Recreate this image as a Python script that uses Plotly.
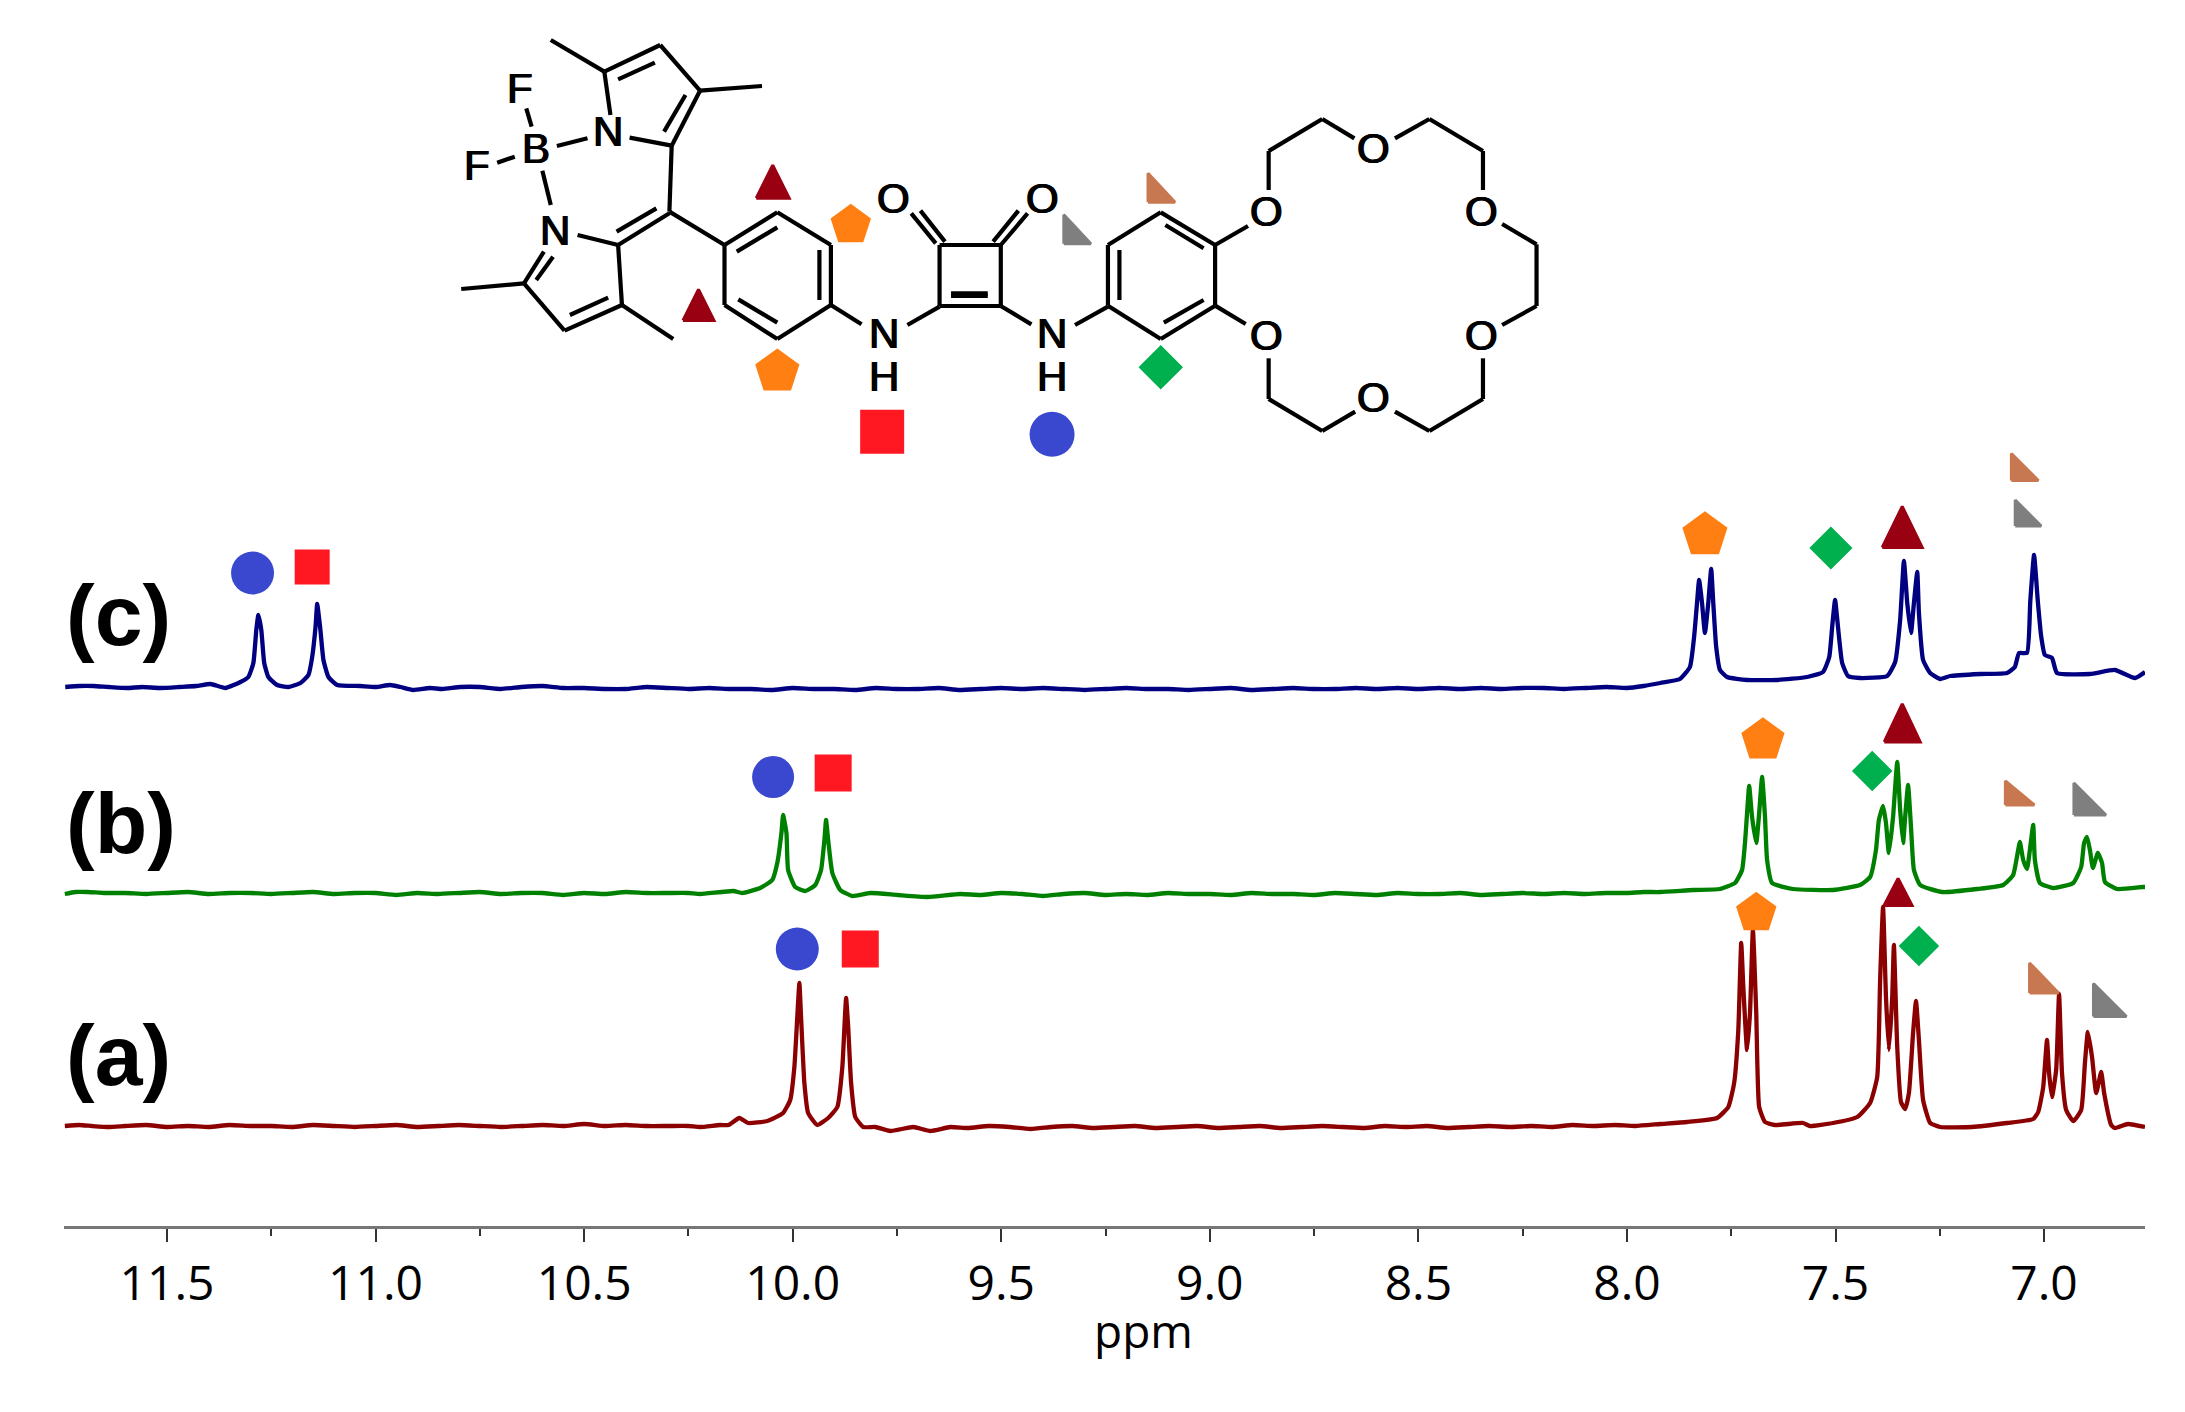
import plotly.graph_objects as go

# ---- spectra: (ppm, stacked intensity) ----
spectrum_c = [
(11.744,539),(11.71,540),(11.677,540),(11.64,539),(11.595,538),(11.56,539),(11.516,538),(11.47,539),(11.43,540),(11.396,542),
(11.360,538),(11.324,544),(11.305,549),(11.293,563),(11.286,596),(11.281,611),(11.274,596),(11.267,563),(11.257,549),
(11.236,541),(11.209,539),(11.180,543),(11.161,551),(11.152,569),(11.144,599),(11.140,622),(11.133,599),(11.125,566),
(11.113,549),(11.092,541),(11.037,540),(11.00,539),(10.965,541),(10.94,539),(10.910,536),(10.87,538),(10.84,537),(10.797,539),
(10.75,539),(10.70,537),(10.65,539),(10.60,540),(10.55,538),(10.50,538),(10.45,537),(10.40,537),(10.35,539),(10.30,538),
(10.25,537),(10.20,538),(10.15,537),(10.10,537),(10.05,536),(10.00,538),(9.95,537),(9.90,537),(9.85,536),(9.80,538),
(9.75,537),(9.70,537),(9.65,538),(9.60,536),(9.55,537),(9.50,538),(9.45,537),(9.40,538),(9.35,537),(9.30,536),
(9.25,537),(9.20,538),(9.15,537),(9.10,537),(9.05,536),(9.00,537),(8.95,538),(8.90,536),(8.85,537),(8.80,538),
(8.75,537),(8.70,537),(8.65,538),(8.60,537),(8.55,538),(8.50,537),(8.45,538),(8.40,537),(8.35,538),(8.30,537),
(8.25,538),(8.20,538),(8.15,537),(8.10,538),(8.05,539),(8.00,538),(7.96,540),
(7.920,543),(7.873,547),(7.849,559),(7.839,589),(7.832,623),(7.827,646),(7.820,623),(7.813,593),(7.805,623),(7.798,657),
(7.793,623),(7.786,579),(7.777,556),(7.760,549),(7.712,546),(7.640,546),(7.568,549),(7.530,554),(7.515,569),(7.508,599),
(7.501,626),(7.494,599),(7.484,563),(7.470,550),(7.441,548),(7.376,550),(7.357,564),(7.345,606),(7.336,665),(7.328,623),
(7.319,593),(7.312,623),(7.304,654),(7.300,613),(7.290,566),(7.273,553),(7.249,547),(7.225,550),(7.153,552),(7.089,553),
(7.070,559),(7.060,573),(7.041,573),(7.033,625),(7.024,671),(7.015,625),(7.007,590),(6.998,571),(6.981,568),(6.969,553),
(6.890,552),(6.830,556),(6.782,548),(6.758,554),
]
spectrum_b = [
(11.745,332),(11.72,334),(11.69,334),(11.65,333),(11.60,333),(11.55,332),(11.50,333),(11.45,334),(11.40,332),(11.35,333),
(11.30,333),(11.25,332),(11.20,333),(11.15,334),(11.10,332),(11.05,333),(11.00,333),(10.95,331),(10.90,333),(10.85,332),
(10.80,333),(10.75,334),(10.70,332),(10.65,333),(10.60,333),(10.55,331),(10.50,333),(10.45,332),(10.40,334),(10.35,333),
(10.30,333),(10.25,333),
(10.222,332),(10.142,335),(10.121,333),(10.078,338),(10.049,346),(10.037,363),(10.027,393),(10.023,411),(10.015,393),
(10.011,356),(9.994,339),(9.970,335),(9.946,341),(9.932,356),(9.924,386),(9.920,406),(9.915,386),(9.905,353),(9.886,336),
(9.857,330),(9.814,333),(9.749,331),(9.677,329),(9.598,332),
(9.55,331),(9.50,333),(9.45,332),(9.40,330),(9.35,332),(9.30,333),(9.25,331),(9.20,332),(9.15,331),(9.10,333),(9.05,332),
(9.00,332),(8.95,331),(8.90,333),(8.85,332),(8.80,332),(8.75,331),(8.70,333),(8.65,332),(8.60,331),(8.55,333),(8.50,332),
(8.45,332),(8.40,333),(8.35,331),(8.30,332),(8.25,333),(8.20,332),(8.15,333),(8.10,332),(8.05,333),(8.00,333),(7.96,334),
(7.920,334),(7.841,336),(7.777,337),(7.741,343),(7.724,356),(7.717,383),(7.712,413),(7.707,440),(7.700,409),(7.690,383),
(7.683,413),(7.676,449),(7.669,409),(7.664,366),(7.652,343),(7.602,337),(7.506,336),(7.441,341),(7.417,349),(7.403,376),
(7.396,406),(7.386,420),(7.379,403),(7.372,373),(7.362,409),(7.352,464),(7.345,416),(7.338,383),(7.333,409),(7.326,441),
(7.319,399),(7.312,356),(7.297,341),(7.244,334),(7.161,337),(7.098,341),(7.074,351),(7.065,369),(7.058,384),(7.050,366),
(7.041,357),(7.034,376),(7.026,401),(7.022,366),(7.010,343),(6.978,338),(6.930,343),(6.911,359),(6.904,383),(6.897,389),
(6.890,376),(6.883,358),(6.871,373),(6.861,363),(6.854,344),(6.825,337),(6.763,339),(6.758,339),
]
spectrum_a = [
(11.745,100),(11.71,101),(11.68,100),(11.64,99),(11.60,100),(11.55,101),(11.50,99),(11.45,100),(11.40,99),(11.35,101),
(11.30,100),(11.25,100),(11.20,99),(11.15,101),(11.10,100),(11.05,99),(11.00,100),(10.95,101),(10.90,99),(10.85,100),
(10.80,101),(10.75,100),(10.70,99),(10.65,100),(10.60,101),(10.55,100),(10.50,102),(10.45,100),(10.40,101),(10.35,100),
(10.30,100),(10.25,100),
(10.222,99),(10.174,101),(10.154,101),(10.128,108),(10.107,103),(10.061,105),(10.023,113),(10.006,126),(9.996,159),
(9.989,209),(9.984,243),(9.980,209),(9.972,143),(9.963,113),(9.941,101),(9.915,108),(9.893,119),(9.881,159),(9.876,199),
(9.872,228),(9.867,199),(9.860,143),(9.850,109),(9.831,99),(9.802,99),(9.766,95),(9.711,99),(9.670,95),(9.622,99),
(9.58,98),(9.53,100),(9.48,99),(9.43,97),(9.38,99),(9.33,100),(9.28,98),(9.23,99),(9.18,100),(9.13,98),(9.08,99),
(9.03,100),(8.98,98),(8.93,99),(8.88,100),(8.83,98),(8.78,99),(8.73,100),(8.68,99),(8.63,98),(8.58,100),(8.53,99),
(8.48,100),(8.43,98),(8.38,99),(8.33,100),(8.28,99),(8.23,100),(8.18,99),(8.13,101),(8.08,100),(8.03,101),(7.98,100),
(7.920,102),(7.856,104),(7.784,108),(7.757,119),(7.743,143),(7.733,196),(7.726,283),(7.721,239),(7.712,176),(7.705,213),
(7.698,296),(7.690,213),(7.683,119),(7.669,104),(7.645,101),(7.578,103),(7.561,100),(7.506,103),(7.448,109),(7.417,123),
(7.400,149),(7.393,246),(7.386,319),(7.379,229),(7.372,176),(7.364,229),(7.360,281),(7.352,179),(7.343,124),(7.333,117),
(7.324,133),(7.314,193),(7.307,225),(7.300,186),(7.290,126),(7.273,103),(7.249,99),(7.173,99),(7.089,103),(7.026,107),
(7.014,114),(7.002,139),(6.993,186),(6.988,153),(6.981,129),(6.971,156),(6.964,232),(6.957,153),(6.947,116),(6.930,105),
(6.911,116),(6.902,163),(6.895,194),(6.885,169),(6.875,133),(6.863,154),(6.856,133),(6.839,101),(6.830,98),(6.799,102),(6.758,99),
]
c_ppm, c_int = zip(*spectrum_c)
b_ppm, b_int = zip(*spectrum_b)
a_ppm, a_int = zip(*spectrum_a)

tick_vals = [11.5, 11.0, 10.5, 10.0, 9.5, 9.0, 8.5, 8.0, 7.5, 7.0]
tick_text = ["11.5", "11.0", "10.5", "10.0", "9.5", "9.0", "8.5", "8.0", "7.5", "7.0"]

# ---- peak assignment symbols, in (c, b, a) order ----
circle_ppm, circle_val, circle_size = [11.295, 10.047, 9.989], [653, 449, 277], [43, 42, 43]
square_ppm, square_val, square_size = [11.152, 9.903, 9.838], [659, 453, 277], [35, 37, 37]
pentagon_ppm, pentagon_val, pentagon_size = [7.813, 7.674, 7.690], [691, 486, 313], [45, 43, 40]
diamond_ppm, diamond_val, diamond_size = [7.511, 7.412, 7.300], [678, 455, 280], [31, 29, 29]
triangle_ppm, triangle_val, triangle_w, triangle_h = [7.340, 7.340, 7.350], [699, 503, 334], [43, 39, 31], [44, 41, 30]
brown_ppm, brown_val, brown_w, brown_h = [7.046, 7.058, 7.000], [759, 433, 248], [30, 32, 32], [30, 27, 33]
grey_ppm, grey_val, grey_w, grey_h = [7.038, 6.890, 6.842], [713, 427, 226], [29, 35, 36], [29, 35, 36]

COLORS = dict(c="#000080", b="#008000", a="#8B0000", circle="#3A48CF", square="#FF1722",
              pentagon="#FF7F12", diamond="#00B04F", triangle="#990012", brown="#C87850", grey="#7F7F7F")
PX_PER_PPM = 417.2

# ---- molecule sketch, in its own drawing units on an overlay axis pair ----
bonds = [
((197,120),(267,215)),((267,215),(340,135)),((285,238),(333,188)),((340,135),(392,272)),((392,272),(473,258)),
((392,272),(355,437)),((373,285),(345,395)),((300,413),(355,437)),((267,215),(275,345)),
((165,325),(172,380)),((127,488),(150,470)),((205,438),(245,415)),((186,512),(197,615)),
((355,437),(352,635)),((352,640),(285,735)),((335,625),(283,695)),((232,705),(285,735)),
((188,755),(162,850)),((200,770),(178,840)),((80,867),(162,850)),((162,850),(215,992)),
((215,992),(290,915)),((222,945),(272,893)),((290,915),(285,735)),((290,915),(357,1017)),
((352,635),(424,735)),
((424,735),(493,637)),((493,637),(563,735)),((563,735),(563,915)),((563,915),(493,1017)),((493,1017),(424,915)),((424,915),(424,735)),
((440,755),(493,682)),((548,750),(548,900)),((442,898),(493,968)),
((563,915),(603,973)),((663,975),(705,920)),
((705,735),(785,735)),((785,735),(785,918)),((785,918),(705,918)),((705,918),(705,735)),((720,880),(768,880)),((720,888),(768,888)),
((668,640),(700,730)),((680,632),(712,725)),((820,640),(785,735)),((808,632),(775,725)),
((785,918),(825,973)),((882,975),(925,920)),
((925,735),(994,637)),((994,637),(1065,735)),((1065,735),(1065,917)),((1065,917),(994,1017)),((994,1017),(925,917)),((925,917),(925,735)),
((940,750),(940,900)),((1000,675),(1050,745)),((1050,900),(998,968)),
((1065,735),(1108,678)),((1065,917),(1105,972)),
((1135,570),(1135,453)),((1135,453),(1205,357)),((1205,357),(1247,415)),((1300,415),(1345,357)),((1345,357),(1415,453)),((1415,453),(1415,570)),
((1440,672),(1485,733)),((1485,733),(1485,918)),((1485,918),(1440,975)),
((1415,1075),(1415,1197)),((1415,1197),(1345,1293)),((1345,1293),(1300,1235)),((1248,1235),(1205,1293)),((1205,1293),(1135,1197)),((1135,1197),(1135,1075)),
]
atoms = [("F",157,265),("F",100,495),("B",178,445),("N",272,395),("N",202,690),("O",645,595),("O",840,595),
         ("N",632,1000),("H",632,1128),("N",852,1000),("H",852,1128),("O",1132,633),("O",1132,1005),
         ("O",1272,445),("O",1413,633),("O",1413,1005),("O",1272,1192)]
mol_x_range, mol_y_range = [-439, 2280], [3678, 30]
mol_ux, mol_uy = 1.3067, 3.0
panel_labels = [("(c)", 1845), ("(b)", 2469), ("(a)", 3165)]

fig = go.Figure()

for name, xs, ys in (("c", c_ppm, c_int), ("b", b_ppm, b_int), ("a", a_ppm, a_int)):
    fig.add_trace(go.Scatter(x=xs, y=ys, mode="lines", name=f"({name})", hoverinfo="skip",
                             line=dict(color=COLORS[name], width=4.3, shape="spline", smoothing=0.45)))

def add_markers(xs, ys, sizes, symbol, color, stroke=2, xaxis="x", yaxis="y"):
    fig.add_trace(go.Scatter(x=xs, y=ys, mode="markers", xaxis=xaxis, yaxis=yaxis, hoverinfo="skip",
                             marker=dict(symbol=symbol, size=sizes, color=color, opacity=1,
                                         line=dict(color=color, width=stroke))))

def add_poly(cx, cy, w, h, right, color, ux, uy, xaxis="x", yaxis="y"):
    # ux, uy: data units per screen pixel (signed), so the outline goes through the axes
    w, h = w - 3, h - 3
    if right:
        pts = [(-w/2, h/2), (-w/2, -h/2), (w/2, h/2)]
    else:
        pts = [(-w/2, h/2), (0, -h/2), (w/2, h/2)]
    xs = [cx + p[0]*ux for p in pts] + [cx + pts[0][0]*ux]
    ys = [cy + p[1]*uy for p in pts] + [cy + pts[0][1]*uy]
    fig.add_trace(go.Scatter(x=xs, y=ys, mode="lines", fill="toself", fillcolor=color, xaxis=xaxis, yaxis=yaxis,
                             hoverinfo="skip", line=dict(color=color, width=3)))

add_markers(circle_ppm, circle_val, circle_size, "circle", COLORS["circle"], stroke=0)
add_markers(square_ppm, square_val, square_size, "square", COLORS["square"], stroke=0)
add_markers(pentagon_ppm, pentagon_val, pentagon_size, "pentagon", COLORS["pentagon"])
add_markers(diamond_ppm, diamond_val, diamond_size, "diamond", COLORS["diamond"])
for i in range(3):
    add_poly(triangle_ppm[i], triangle_val[i], triangle_w[i], triangle_h[i], False, COLORS["triangle"], -1/PX_PER_PPM, -1)
    add_poly(brown_ppm[i], brown_val[i], brown_w[i], brown_h[i], True, COLORS["brown"], -1/PX_PER_PPM, -1)
    add_poly(grey_ppm[i], grey_val[i], grey_w[i], grey_h[i], True, COLORS["grey"], -1/PX_PER_PPM, -1)

# molecule
bx, by = [], []
for (p, q) in bonds:
    bx += [p[0], q[0], None]
    by += [p[1], q[1], None]
fig.add_trace(go.Scatter(x=bx, y=by, mode="lines", xaxis="x2", yaxis="y2", hoverinfo="skip",
                         line=dict(color="black", width=4.2)))
add_poly(487, 545, 36, 36, False, COLORS["triangle"], mol_ux, mol_uy, "x2", "y2")
add_poly(390, 915, 34, 34, False, COLORS["triangle"], mol_ux, mol_uy, "x2", "y2")
add_poly(995, 563, 30, 32, True, COLORS["brown"], mol_ux, mol_uy, "x2", "y2")
add_poly(885, 688, 30, 32, True, COLORS["grey"], mol_ux, mol_uy, "x2", "y2")
add_markers([589, 493], [675, 1115], [40, 44], "pentagon", COLORS["pentagon"], xaxis="x2", yaxis="y2")
add_markers([994], [1102], [32], "diamond", COLORS["diamond"], xaxis="x2", yaxis="y2")
add_markers([630], [1295], [44], "square", COLORS["square"], stroke=0, xaxis="x2", yaxis="y2")
add_markers([852], [1303], [45], "circle", COLORS["circle"], stroke=0, xaxis="x2", yaxis="y2")

annotations = [dict(x=a[1], y=a[2], xref="x2", yref="y2", text=a[0], showarrow=False,
                    font=dict(family="Liberation Sans", size=42, color="black",
                              shadow="0.7px 0 0 black, -0.7px 0 0 black")) for a in atoms]
annotations += [dict(x=mol_x_range[0], y=y, xref="x2", yref="y2", text=t, showarrow=False, xanchor="left",
                     font=dict(family="Liberation Sans", size=86, color="black", weight="bold"))
                for t, y in panel_labels]
annotations.append(dict(x=9.16, y=-0.0855, xref="x", yref="paper", yanchor="middle", text="ppm", showarrow=False,
                        font=dict(family="Open Sans", size=46, color="black")))

fig.update_layout(
    width=2177, height=1404, margin=dict(l=56, r=40, t=2, b=186),
    paper_bgcolor="white", plot_bgcolor="white", showlegend=False, annotations=annotations,
    xaxis=dict(range=[11.747, 6.758], tickmode="array", tickvals=tick_vals, ticktext=tick_text,
               ticks="outside", ticklen=13, tickwidth=1.5, tickcolor="#333333", showgrid=False, zeroline=False,
               showline=True, linecolor="#777777", linewidth=3,
               tickfont=dict(family="Open Sans", size=48, color="black"),
               minor=dict(tickmode="array", tickvals=[11.25, 10.75, 10.25, 9.75, 9.25, 8.75, 8.25, 7.75, 7.25],
                          ticks="outside", ticklen=7, tickwidth=1.5, tickcolor="#333333", showgrid=False)),
    yaxis=dict(range=[0, 1216], visible=False),
    xaxis2=dict(range=mol_x_range, visible=False, overlaying="x", anchor="y2"),
    yaxis2=dict(range=mol_y_range, visible=False, overlaying="y", anchor="x2"),
)

fig.write_html("out.html")
